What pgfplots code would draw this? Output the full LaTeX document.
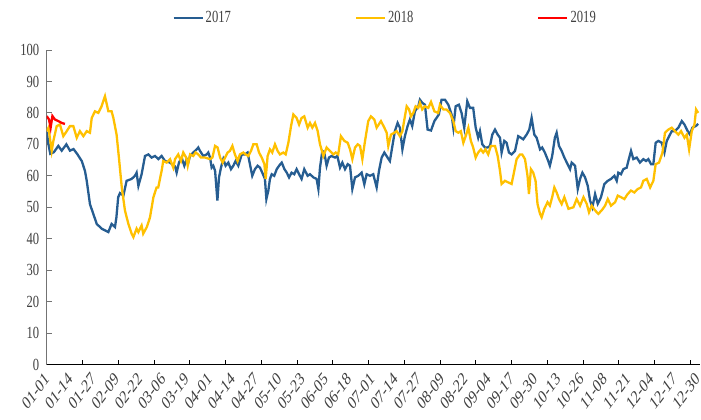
\documentclass[border=0pt]{standalone}
\usepackage{pgfplots}
\pgfplotsset{compat=1.18}
\usepackage{pgfplotstable}
\usepackage{graphicx}
\usepackage{fontspec}
\setmainfont{Liberation Serif}[FakeStretch=0.74]
\newfontfamily\plainf{Liberation Serif}
\newcommand\lab[1]{\scalebox{1}[1.35]{\rotatebox{45}{\plainf\fontsize{13.6}{14}\selectfont #1}}}
\definecolor{c17}{RGB}{38,93,145}
\definecolor{c18}{RGB}{255,192,0}
\definecolor{c19}{RGB}{255,0,0}
\definecolor{txt}{RGB}{64,64,64}

\pgfplotstableread{
d v
0 74
1 70
2 67
4 67.5
6.5 69.5
8.4 68
11 70
13 68
15 68.5
17 67
19.6 64.7
21.4 61.6
22.4 58.4
24.2 51
26 48
28 44.7
30.7 43.2
34.5 42.1
36.3 44.7
38.2 43.7
39 46.8
40 53.2
41 54.5
42.9 53.7
44.7 58.4
47.5 59
49.4 60
50.3 61
51.3 56.8
53.1 60.5
55 66.3
56.9 66.8
58.7 65.8
60.6 66.3
62.5 65.3
64.3 66.3
66.2 64.7
69 64.2
71.8 63
72.7 61
74 64.2
75.5 65.8
77 63.2
78.3 65.3
79.2 64.2
80.2 66.3
82 67.4
83.9 68.4
84.8 69
85.8 67.9
87.6 66.3
89.5 66.8
90.4 67.4
91.4 65.8
92.3 62.6
93.2 63.2
94.2 61.6
95.5 52.1
96.4 59.5
97.5 62.6
98.8 65.3
100.1 63.2
101.6 64.2
103.1 62.1
104.4 63.2
105.7 64.7
107.2 63.2
109.1 66.8
110.9 66.8
112.4 67.4
113.7 63.7
115 60
116.5 62.1
118 63.2
119.3 62.6
120.6 61
122.1 59
122.9 52.6
124 55.3
124.9 59
125.9 60.5
127.3 60
128.7 62.1
130 63.2
131.5 64.2
133 62.1
134.3 61
135.6 59.5
137 61
138.5 60.5
139.8 62.1
141.2 60.5
142.6 59
144.1 62.1
146 60
147.3 60.5
149.2 59.5
151 59
152 55.8
152.9 62.6
154.2 67.9
155.3 67.4
156.6 63.2
157.9 65.8
159.4 66.3
161.3 65.8
162.6 66.3
164.1 62.6
165.4 64.2
166.9 62.1
168.4 63.7
169.7 63.2
171 55.8
172.5 59.5
174.3 60
176.2 61
177.7 57.3
179 60.5
180.9 60
182.7 60.5
184.6 56.3
185.9 61.6
187.4 65.8
188.9 67.4
190.7 65.8
192 64.7
193.4 69.5
194.8 74.2
196.3 76.8
197.6 75.3
199 68.4
200.4 72.6
201.9 75.8
203.2 77.9
204.5 75.8
206 80.5
207.9 82.1
208.8 84.2
210.1 83.2
211.6 82.6
213.1 74.7
215 74.4
216.9 77.4
219.4 79.5
220.9 84.2
222.8 84.2
224.7 82.6
226.5 79.5
227.5 75.3
228.8 82.1
230.6 82.6
232.1 80
233.6 75.3
235.3 83.7
236.8 81.6
238.6 81.6
240 75.3
241.4 72.1
242.4 74.2
243.7 70
245.2 69
246.7 69
248 69.5
249.3 73.1
250.8 74.7
252.3 73.1
253.6 72.1
254.5 67.4
256 71.1
257.3 70.5
258.6 67.4
260.1 66.8
262 67.9
263.8 72.6
265.3 72.1
266.6 71.6
268.5 73.1
270 74.7
271.3 78.4
272.8 73.1
274.1 72.1
276 68.4
277.2 69
278.7 67.4
280.6 64.7
281.5 63.2
282.8 66.3
284.3 72.1
285.3 73.7
286.6 69.5
288.1 67.9
289.6 65.8
292.8 62.1
293.7 64.2
295.6 63.2
297.1 55.8
298.4 59
299.7 61
301.2 59.5
302.7 56.8
304 52.1
305.3 50
306.8 54.2
308.3 51.1
310.1 53.2
312 57.4
313.9 58.4
315.7 59
317.6 60
318.9 58.4
319.8 61
321.3 60.5
322.6 62.1
324.5 62.6
325.4 64.7
326.9 67.9
328.2 65.3
330.1 65.8
331.9 64.2
333.8 65.3
335.3 64.7
336.6 65.3
338.1 63.7
339.4 63.7
340.7 70.5
342.2 71.1
344.1 70.5
345.6 67.4
346.9 71.1
348.7 73.1
349.7 74.2
351.5 74.2
353.4 75.3
355.3 77.4
356.8 76.3
358.6 74.2
359.9 73.1
361.2 75.3
363.1 75.8
364.5 76.5
}\tA

\pgfplotstableread{
d v
0 74.2
1 75.3
2.8 67.9
3.7 71
5.6 75.8
7.4 76.3
9.3 72.6
11.2 74.2
13 75.8
14.9 75.8
16.8 72.1
18.6 74.2
20.5 72.6
22.4 74.2
24.2 73.7
25.2 78.4
27 80.5
28.9 80
30.7 82.1
32.6 85.3
34.5 80.5
36.3 80.5
37.3 78.4
39.1 73.1
40.4 65.8
42 56.3
43.8 48.9
45.7 44.7
47.5 41.6
48.5 40.5
50.3 43.2
51.3 42.1
53.1 44.2
54 41.6
56 43.7
57.8 46.8
59.7 53.2
61.5 56.3
62.4 56.3
64.3 61.6
65.2 64.7
67.1 64.2
69 65.3
70.8 62.6
71.8 65.3
73.6 66.8
75.1 64.7
76.4 67.4
78 65.8
78.9 63.2
80.2 66.8
82 66.3
83.3 67.4
84.8 66.8
86.3 65.8
88.6 65.8
91.4 65.3
92.7 65.8
94.2 69.5
95.6 69
97 65.8
98.4 64.2
99.8 65.8
101.2 67.4
102.5 67.9
103.9 69.5
105.3 66.8
106.8 64.7
108.1 66.8
110 67.4
111.3 66.8
112.8 66.3
114.3 67.9
115.6 70
117.5 70
118.8 67.4
120.3 65.8
121.8 63.7
122.5 59
123.6 66.3
124.9 68.4
126.2 67.4
127.7 70
129.2 67.9
130.5 66.8
132.4 67.4
133.7 66.8
135.2 70.5
136.7 75.8
138 79.5
139.8 78.4
141.2 76.3
142.6 78.4
144.1 78.9
146 75.3
147.3 76.8
148.6 75.3
150.1 76.8
151.6 74.2
152.9 70
154.8 66.3
156.6 69
158.5 67.9
160.4 66.8
161.7 67.4
163.1 66.8
164.6 72.6
166.5 71.1
168.4 70.5
169.7 68.4
171 65.3
172.5 69
174 70
175.3 69.5
176.6 65.3
178.1 71.1
179.9 77.4
181.4 78.9
183.3 77.9
184.6 75.3
187 77.4
188.9 75.3
190.2 73.7
191.1 69.5
192.6 73.1
194.5 73.7
195.8 74.2
197.6 72.6
199 74.2
200.1 77.9
201.4 82.1
202.7 81.1
203.8 78.9
205.1 80
206.4 82.1
207.9 81.6
208.8 83.2
210.1 81.1
211.6 82.1
213.5 81.6
215 83.5
216.9 80.5
219 80
220 82.6
221.9 81.1
223.7 81.1
225.6 80
227.5 77.4
228.8 74.2
230.3 73.7
231.7 74.2
233.1 70.5
234.4 72.6
235.9 75.3
237.3 71.1
238.6 69
240 65.8
241.4 67.4
242.9 68.4
244.2 67.4
245.5 68.4
247 66.8
248.5 69.5
250.8 69.5
252.3 66.3
253.6 61.6
254.5 57.4
256.4 58.4
258.2 57.9
260.1 57.4
261.6 61.6
262.9 65.3
264.8 66.8
266 66.8
267.6 65.3
269 60
269.8 54.2
270.9 62.1
272.2 61
273.5 58.4
274.6 51
276 47.9
276.9 46.8
278.4 49.5
280.2 51.6
281.5 50.5
282.8 53.2
284 56.3
285.3 54.7
286.6 52.6
288.1 51
289.6 53.2
291.9 49.5
294.7 50
296.5 52.6
298.4 50.5
300.3 53.2
302.1 51.1
303.4 48.4
304.9 50.5
306.8 49
308.6 47.9
310.5 49
312.4 50.5
313.9 52.6
315.7 50.5
318 51.6
319.5 53.7
321.3 53.2
323.2 52.6
325 54.2
326.9 55.3
328.8 54.7
330.7 55.8
332.5 56.3
333.8 58.4
335.7 59
337.6 56.3
339.4 58.4
340.7 63.7
342.6 64.2
344.5 67.4
345.9 73.7
347.8 74.7
349.7 75.3
351.5 74.2
353.4 73.1
354.9 74.2
356.8 72.1
358.1 73.1
359.4 68.4
360.9 74.2
362.4 76.3
363.3 81.1
364.5 80
}\tB

\pgfplotstableread{
d v
0 79
1.3 77.9
2.2 75.3
3.2 79
4.6 77.9
6.5 77.4
8.4 76.8
10.2 76.5
}\tC

\begin{document}
\begin{tikzpicture}
\useasboundingbox (-46.7pt,-55.5pt) rectangle (654.3pt,364.5pt);
\begin{axis}[
  at={(0pt,0pt)}, anchor=south west,
  scale only axis, width=653.3pt, height=314.5pt,
  xmin=0, xmax=365.5, ymin=0, ymax=100,
  axis x line*=bottom, axis y line*=left,
  x axis line style={black, line width=1.6pt, -},
  y axis line style={black!55, line width=0.8pt, -},
  ytick={0,10,...,100},
  xtick={0,13,...,364},
  xticklabels={\lab{01-01},\lab{01-14},\lab{01-27},\lab{02-09},\lab{02-22},\lab{03-06},\lab{03-19},\lab{04-01},\lab{04-14},\lab{04-27},\lab{05-10},\lab{05-23},\lab{06-05},\lab{06-18},\lab{07-01},\lab{07-14},\lab{07-27},\lab{08-09},\lab{08-22},\lab{09-04},\lab{09-17},\lab{09-30},\lab{10-13},\lab{10-26},\lab{11-08},\lab{11-21},\lab{12-04},\lab{12-17},\lab{12-30}},
  minor xtick={0,20,...,360},
  tick align=inside,
  major x tick style={draw=none},
  minor x tick style={black, line width=0.8pt},
  minor tick length=5pt,
  major y tick style={black!55, line width=0.8pt},
  major tick length=5pt,
  /pgf/number format/assume math mode=true,
  ticklabel style={font=\fontsize{17}{17}\selectfont, text=txt},
  xticklabel style={anchor=north east, inner sep=0pt, xshift=3.5pt, yshift=-7pt},
  yticklabel style={xshift=-4pt},
  legend columns=3,
  legend style={at={(0.518,1.102)}, anchor=center, draw=none, fill=none,
    font=\fontsize{17}{17}\selectfont, text=txt,
    /tikz/every even column/.append style={column sep=122pt},
    /tikz/every odd column/.append style={column sep=0pt}},
  legend image code/.code={\draw[#1] (0pt,0pt) -- (29pt,0pt);},
]
\addplot[c17, line width=2.3pt] table[x=d,y=v]{\tA};
\addlegendentry{2017}
\addplot[c18, line width=2.3pt] table[x=d,y=v]{\tB};
\addlegendentry{2018}
\addplot[c19, line width=2.3pt] table[x=d,y=v]{\tC};
\addlegendentry{2019}
\end{axis}
\end{tikzpicture}
\end{document}
